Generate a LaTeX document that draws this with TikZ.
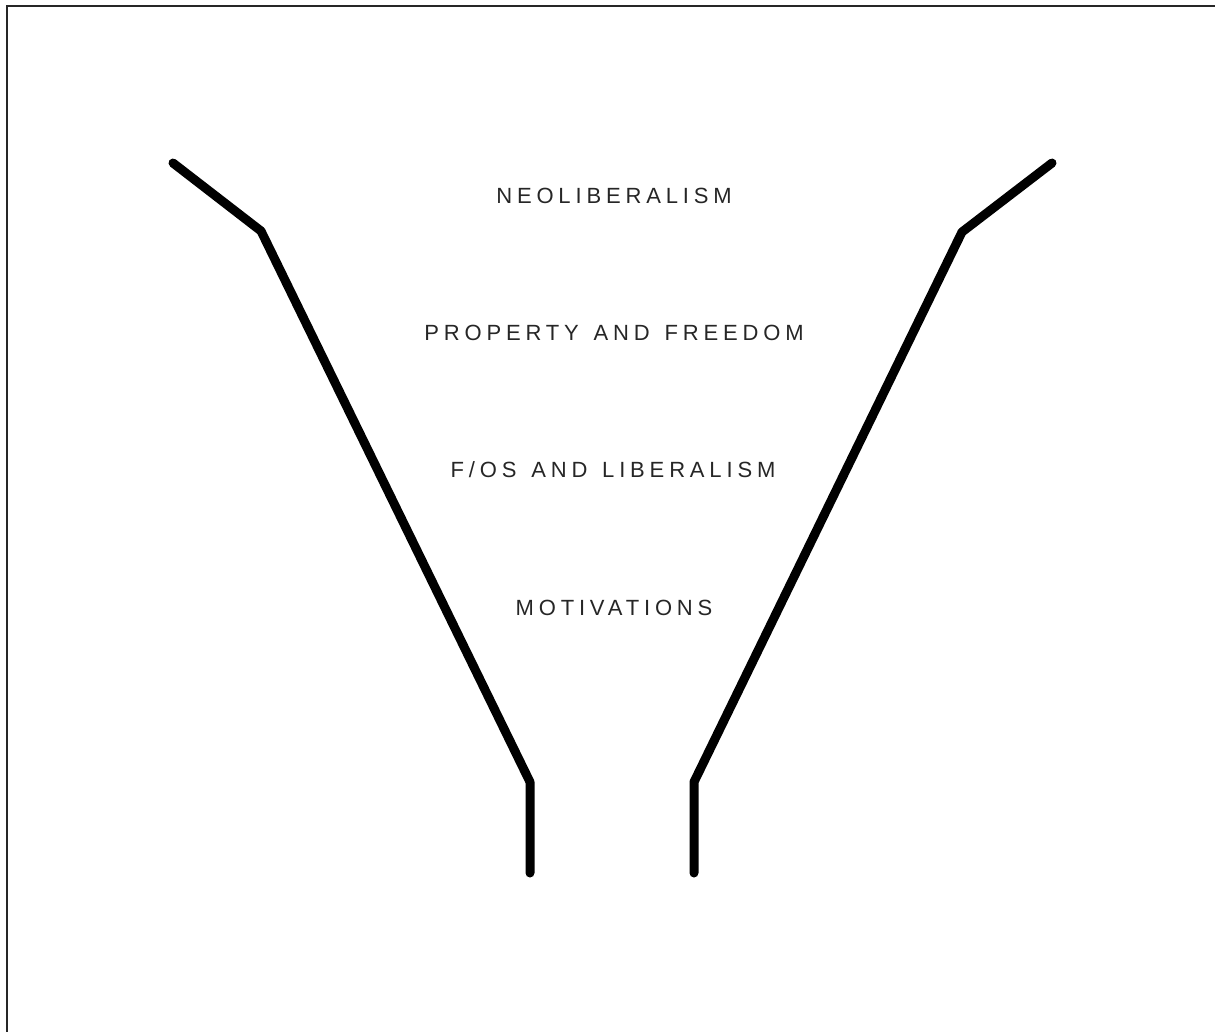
\documentclass[tikz,border=0pt]{standalone}
\usepackage{fontspec}
\setmainfont{Liberation Sans}
\newfontfamily\labelfont[LetterSpace=22,WordSpace=1.35]{Liberation Sans}
\begin{document}
\begin{tikzpicture}[x=1pt,y=-1pt,
  funnel/.style={line width=9pt, line cap=round, line join=round, black},
  frameline/.style={line width=1.5pt, black!85},
  lbl/.style={font=\labelfont\fontsize{22}{26}\selectfont, text=black!85, inner sep=0pt, anchor=center}]
\useasboundingbox (0,0) rectangle (1215,1032);
% frame (top and left edges only)
\draw[frameline] (7,1032) -- (7,6) -- (1215,6);
% funnel coordinates
\coordinate (l1) at (173,163);
\coordinate (l2) at (261,231);
\coordinate (l3) at (530,782);
\coordinate (l4) at (530,873);
\coordinate (r1) at (1052,163);
\coordinate (r2) at (962,232);
\coordinate (r3) at (694,782);
\coordinate (r4) at (694,873);
\draw[funnel] (l1) -- (l2) -- (l3) -- (l4);
\draw[funnel] (r1) -- (r2) -- (r3) -- (r4);
% labels
\node[lbl] (neo) at (614,196) {NEOLIBERALISM};
\node[lbl] (prop) at (614,333) {PROPERTY AND FREEDOM};
\node[lbl] (fos) at (613,470) {F/OS AND LIBERALISM};
\node[lbl] (mot) at (614,608) {MOTIVATIONS};
\end{tikzpicture}
\end{document}
